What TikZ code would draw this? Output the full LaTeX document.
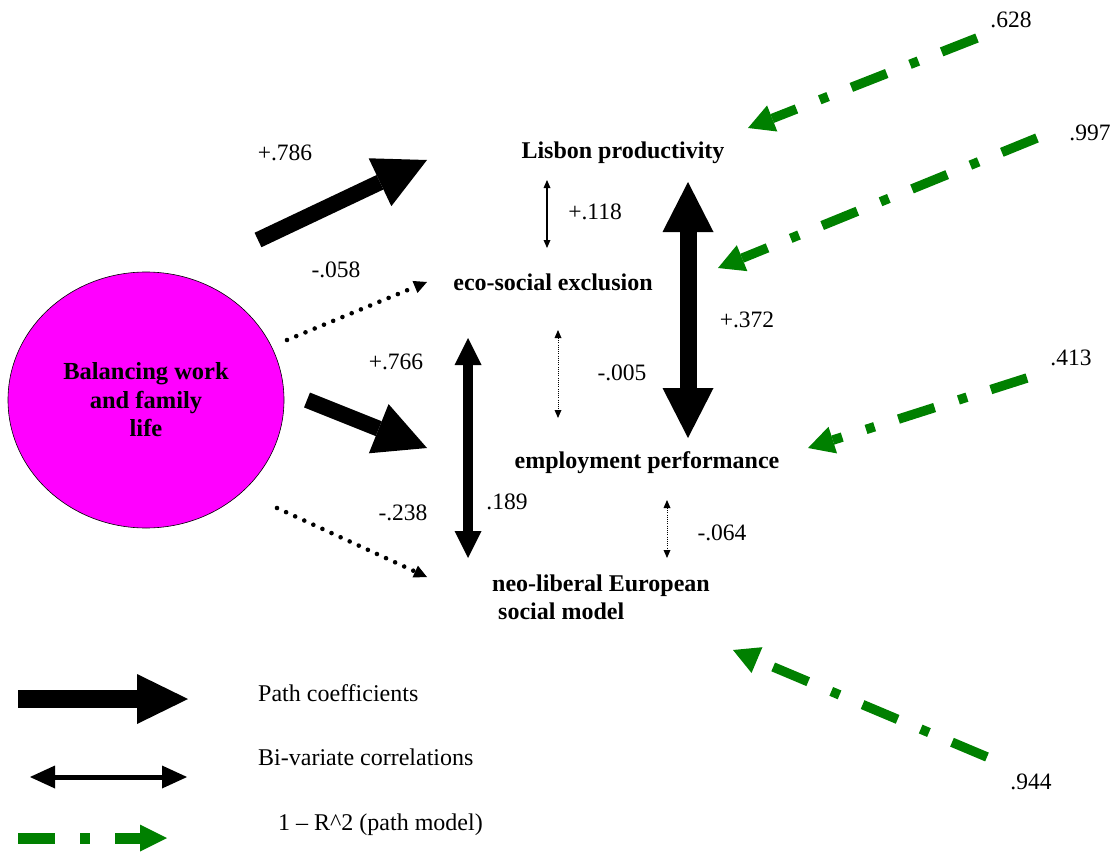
\documentclass[tikz,border=0pt]{standalone}
\usepackage{fontspec}
\setmainfont{Liberation Serif}
\usetikzlibrary{arrows.meta,shapes.geometric}
\definecolor{mag}{RGB}{255,0,255}
\definecolor{grn}{RGB}{0,128,0}
\begin{document}
\begin{tikzpicture}[x=1pt,y=-1pt,
  lab/.style={font=\fontsize{24}{28}\selectfont\bfseries, inner sep=0pt},
  num/.style={font=\fontsize{23.5}{28}\selectfont, inner sep=0pt},
  leg/.style={font=\fontsize{24}{28}\selectfont, inner sep=0pt, anchor=west},
  patharrow/.style={line width=16pt, -{Triangle[length=52pt,width=53pt,line width=0pt]}},
  bigcorr/.style={line width=17pt, {Triangle[length=50pt,width=51pt,line width=0pt]}-{Triangle[length=50pt,width=51pt,line width=0pt]}},
  midcorr/.style={line width=10pt, {Triangle[length=27pt,width=27pt,line width=0pt]}-{Triangle[length=27pt,width=27pt,line width=0pt]}},
  corr/.style={line width=1.2pt, {Triangle[length=8pt,width=7pt,line width=0pt]}-{Triangle[length=8pt,width=7pt,line width=0pt]}},
  dotcorr/.style={corr, line width=1pt, dash pattern=on 1pt off 1.2pt},
  dotarrow/.style={line width=4.6pt, line cap=round, dash pattern=on 0pt off 10pt, -{Triangle[length=13pt,width=13pt,line width=0pt]}},
  resid/.style={draw=grn, line width=9.5pt, dash pattern=on 38pt off 25pt on 9pt off 25pt, -{Triangle[length=26pt,width=28pt,line width=0pt]}}
]
\useasboundingbox (0,0) rectangle (1115,853);

% latent variable
\node[draw, fill=mag, ellipse, line width=0.6pt, minimum width=276pt, minimum height=256pt, inner sep=0pt,
      align=center, font=\fontsize{24.5}{28.5}\selectfont\bfseries] (bal) at (146,400) {Balancing work\\and family\\life};

% indicator labels
\node[lab] (lis) at (623,153) {Lisbon productivity};
\node[lab] (eco) at (553,282) {eco-social exclusion};
\node[lab] (emp) at (647,463) {employment performance};
\node[lab, anchor=west, align=left] (neo) at (492,597) {neo-liberal European\\\hspace{6pt}social model};

% coordinates of connector ends
\coordinate (p1s) at (258,240); \coordinate (p1e) at (427,160);
\coordinate (p2s) at (287,340); \coordinate (p2e) at (427,282);
\coordinate (p3s) at (307,400); \coordinate (p3e) at (427,448);
\coordinate (p4s) at (277,508); \coordinate (p4e) at (427,577);
\coordinate (c1a) at (547,180); \coordinate (c1b) at (547,248);
\coordinate (c2a) at (688,182); \coordinate (c2b) at (688,438);
\coordinate (c3a) at (558,330); \coordinate (c3b) at (558,418);
\coordinate (c4a) at (468,338); \coordinate (c4b) at (468,558);
\coordinate (c5a) at (667,500); \coordinate (c5b) at (667,558);
\coordinate (r1s) at (977,38);  \coordinate (r1e) at (748,128);
\coordinate (r2s) at (1037,138); \coordinate (r2e) at (718,268);
\coordinate (r3s) at (1027,378); \coordinate (r3e) at (808,448);
\coordinate (r4s) at (987,757); \coordinate (r4e) at (733,650);

% path coefficients
\draw[patharrow] (p1s) -- (p1e);
\draw[dotarrow] (p2s) -- (p2e);
\draw[patharrow] (p3s) -- (p3e);
\draw[dotarrow] (p4s) -- (p4e);

% correlations
\draw[corr] (c1a) -- (c1b);
\draw[bigcorr] (c2a) -- (c2b);
\draw[dotcorr] (c3a) -- (c3b);
\draw[midcorr] (c4a) -- (c4b);
\draw[dotcorr] (c5a) -- (c5b);

% residuals
\draw[resid] (r1s) -- (r1e);
\draw[resid] (r2s) -- (r2e);
\draw[resid] (r3s) -- (r3e);
\draw[resid] (r4s) -- (r4e);

% numbers
\node[num] (n786) at (285,153) {+.786};
\node[num] (n058) at (336,270) {-.058};
\node[num] (n766) at (396,362) {+.766};
\node[num] (n238) at (403,513) {-.238};
\node[num] (n118) at (595,212) {+.118};
\node[num] (n372) at (747,320) {+.372};
\node[num] (n005) at (622,373) {-.005};
\node[num] (n189) at (507,502) {.189};
\node[num] (n064) at (722,533) {-.064};
\node[num] (n628) at (1011,20) {.628};
\node[num] (n997) at (1090,133) {.997};
\node[num] (n413) at (1071,358) {.413};
\node[num] (n944) at (1031,782) {.944};

% legend
\coordinate (l1a) at (18,699);  \coordinate (l1b) at (188,699);
\coordinate (l2a) at (30,777);  \coordinate (l2b) at (187,777);
\coordinate (l3a) at (18,838);  \coordinate (l3b) at (167,838);
\draw[line width=18pt, -{Triangle[length=51pt,width=50pt,line width=0pt]}] (l1a) -- (l1b);
\draw[line width=5pt, {Triangle[length=25pt,width=23pt,line width=0pt]}-{Triangle[length=25pt,width=23pt,line width=0pt]}] (l2a) -- (l2b);
\draw[draw=grn, line width=11pt, dash pattern=on 37pt off 25pt on 10pt off 25pt, -{Triangle[length=27pt,width=27pt,line width=0pt]}] (l3a) -- (l3b);
\node[leg] (leg1) at (258,693) {Path coefficients};
\node[leg] (leg2) at (258,757) {Bi-variate correlations};
\node[leg] (leg3) at (278,825) {1 – R\^{}2 (path model)};
\end{tikzpicture}
\end{document}
